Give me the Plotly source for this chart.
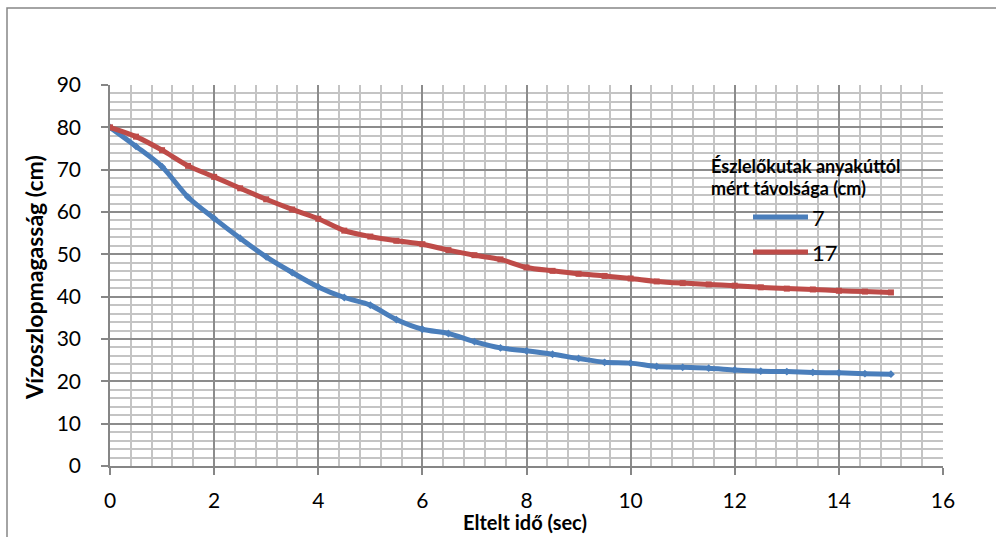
import plotly.graph_objects as go

# Elapsed time (s) and water-column height (cm) in the two observation wells
time_s = [0, 0.5, 1, 1.5, 2, 2.5, 3, 3.5, 4, 4.5, 5, 5.5, 6, 6.5, 7, 7.5,
          8, 8.5, 9, 9.5, 10, 10.5, 11, 11.5, 12, 12.5, 13, 13.5, 14, 14.5, 15]
well_7cm = [80, 75.5, 70.7, 63.5, 58.5, 53.8, 49.4, 45.7, 42.3, 39.8, 38.0,
            34.6, 32.3, 31.3, 29.4, 27.9, 27.2, 26.4, 25.4, 24.5, 24.3, 23.5,
            23.3, 23.1, 22.7, 22.4, 22.3, 22.1, 22.0, 21.8, 21.7]
well_17cm = [80, 77.8, 74.6, 70.9, 68.3, 65.6, 63.0, 60.6, 58.4, 55.6, 54.2,
             53.2, 52.4, 51.0, 49.8, 48.8, 46.9, 46.1, 45.4, 44.9, 44.3, 43.6,
             43.2, 42.9, 42.6, 42.2, 41.9, 41.7, 41.4, 41.2, 41.0]
series_names = ["7", "17"]

BLUE = "#4A7EBB"
RED = "#BE4B48"
FONT = "Lato"

W, H = 996, 537
L, R, T, B = 110, 53, 85, 71
pw, ph = W - L - R, H - T - B


def px_x(p):
    return (p - L) / pw


def px_y(p):
    return (H - B - p) / ph


fig = go.Figure()
fig.add_trace(go.Scatter(
    x=time_s, y=well_7cm, name=series_names[0], mode="lines+markers",
    line=dict(color=BLUE, width=5, shape="spline", smoothing=0.8),
    marker=dict(symbol="diamond", size=6, color=BLUE), showlegend=False))
fig.add_trace(go.Scatter(
    x=time_s, y=well_17cm, name=series_names[1], mode="lines+markers",
    line=dict(color=RED, width=5, shape="spline", smoothing=0.8),
    marker=dict(symbol="square", size=6, color=RED), showlegend=False))

axis_common = dict(
    showline=True, linecolor="#868686", linewidth=1.5,
    ticks="outside", ticklen=7, tickcolor="#868686", tickwidth=1.5,
    showgrid=True, gridcolor="#8C8C8C", gridwidth=1.5,
    tickfont=dict(family=FONT, size=21, color="#000000"),
    zeroline=False, fixedrange=True,
)

fig.update_xaxes(range=[0, 16], dtick=2, tick0=0,
                 minor=dict(dtick=0.4, tick0=0, showgrid=True,
                            gridcolor="#C4C4C4", gridwidth=2),
                 ticklabelstandoff=8, **axis_common)
fig.update_yaxes(range=[0, 90], dtick=10, tick0=0,
                 minor=dict(dtick=2, tick0=0, showgrid=True,
                            gridcolor="#C4C4C4", gridwidth=2),
                 ticklabelstandoff=16, **axis_common)

annotations = [
    dict(text="<b>Eltelt idő (sec)</b>", x=px_x(525), y=px_y(536),
         xanchor="center", yanchor="bottom",
         font=dict(family=FONT, size=20, color="#000000")),
    dict(text="<b>Vízoszlopmagasság (cm)</b>", x=px_x(34), y=px_y(278),
         xanchor="center", yanchor="middle", textangle=-90,
         font=dict(family=FONT, size=23, color="#000000")),
    dict(text="<b>Észlelőkutak anyakúttól</b>", x=px_x(709), y=px_y(166),
         xanchor="left", yanchor="middle",
         font=dict(family=FONT, size=18, color="#000000")),
    dict(text="<b>mért távolsága (cm)</b>", x=px_x(709), y=px_y(188),
         xanchor="left", yanchor="middle",
         font=dict(family=FONT, size=18, color="#000000")),
]
shapes = [
    # outer chart frame
    dict(type="rect", xref="paper", yref="paper",
         x0=px_x(7), x1=px_x(1010), y0=px_y(560), y1=px_y(8),
         line=dict(color="#868686", width=1.5), fillcolor="rgba(0,0,0,0)",
         layer="below"),
]

# legend entries
for name, color, ypix in [(series_names[0], BLUE, 217),
                          (series_names[1], RED, 252)]:
    shapes.append(dict(type="line", xref="paper", yref="paper",
                       x0=px_x(753), x1=px_x(808), y0=px_y(ypix), y1=px_y(ypix),
                       line=dict(color=color, width=5)))
    annotations.append(dict(text=name, x=px_x(810), y=px_y(ypix),
                            xanchor="left", yanchor="middle",
                            font=dict(family=FONT, size=22, color="#000000")))

for a in annotations:
    a.update(xref="paper", yref="paper", showarrow=False)

fig.update_layout(
    width=W, height=H,
    margin=dict(l=L, r=R, t=T, b=B),
    paper_bgcolor="#FFFFFF", plot_bgcolor="#FFFFFF",
    annotations=annotations, shapes=shapes,
    showlegend=False,
)

fig.write_html("out.html")
